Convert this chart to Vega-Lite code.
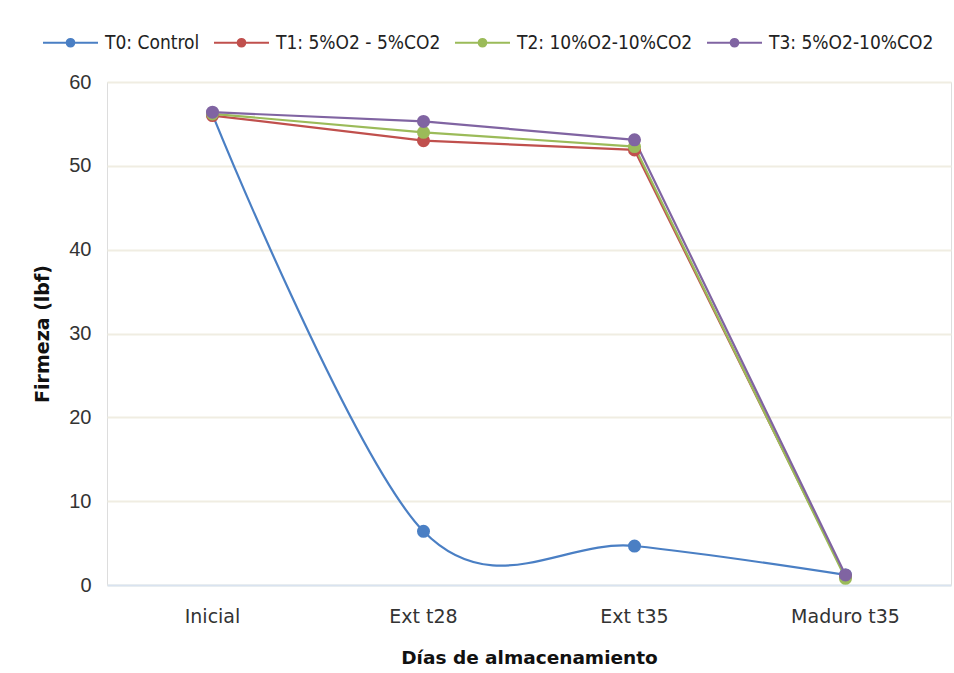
{
  "$schema": "https://vega.github.io/schema/vega-lite/v6.json",
  "autosize": "none",
  "width": 844,
  "height": 503,
  "padding": {"left": 107, "top": 82, "right": 3, "bottom": 88},
  "background": "white",
  "data": {"values": [
    {"dia": "Inicial", "serie": "T0: Control", "firmeza": 56.1},
    {"dia": "Ext t28", "serie": "T0: Control", "firmeza": 6.4},
    {"dia": "Ext t35", "serie": "T0: Control", "firmeza": 4.65},
    {"dia": "Maduro t35", "serie": "T0: Control", "firmeza": 1.2},
    {"dia": "Inicial", "serie": "T1: 5%O2 - 5%CO2", "firmeza": 56.0},
    {"dia": "Ext t28", "serie": "T1: 5%O2 - 5%CO2", "firmeza": 53.0},
    {"dia": "Ext t35", "serie": "T1: 5%O2 - 5%CO2", "firmeza": 51.9},
    {"dia": "Maduro t35", "serie": "T1: 5%O2 - 5%CO2", "firmeza": 1.0},
    {"dia": "Inicial", "serie": "T2: 10%O2-10%CO2", "firmeza": 56.2},
    {"dia": "Ext t28", "serie": "T2: 10%O2-10%CO2", "firmeza": 54.0},
    {"dia": "Ext t35", "serie": "T2: 10%O2-10%CO2", "firmeza": 52.3},
    {"dia": "Maduro t35", "serie": "T2: 10%O2-10%CO2", "firmeza": 0.8},
    {"dia": "Inicial", "serie": "T3: 5%O2-10%CO2", "firmeza": 56.4},
    {"dia": "Ext t28", "serie": "T3: 5%O2-10%CO2", "firmeza": 55.3},
    {"dia": "Ext t35", "serie": "T3: 5%O2-10%CO2", "firmeza": 53.1},
    {"dia": "Maduro t35", "serie": "T3: 5%O2-10%CO2", "firmeza": 1.2}
  ]},
  "encoding": {
    "x": {"field": "dia", "type": "nominal", "sort": ["Inicial", "Ext t28", "Ext t35", "Maduro t35"],
      "scale": {"type": "band", "paddingInner": 0, "paddingOuter": 0},
      "axis": {"title": "Días de almacenamiento", "labelAngle": 0, "labelFont": "DejaVu Sans", "labelFontSize": 19, "labelColor": "#333333", "labelPadding": 22,
        "ticks": false, "domainColor": "#d9e3f0", "domainWidth": 2, "grid": false,
        "titleFont": "DejaVu Sans", "titleFontSize": 18.5, "titleFontWeight": "bold", "titleColor": "#111111", "titlePadding": 22}},
    "y": {"field": "firmeza", "type": "quantitative",
      "scale": {"domain": [0, 60]},
      "axis": {"title": "Firmeza (lbf)", "values": [0, 10, 20, 30, 40, 50, 60], "labelFont": "Liberation Sans", "labelFontSize": 20, "labelColor": "#333333", "labelPadding": 16,
        "ticks": false, "domain": false, "gridColor": "#f0ede2", "gridWidth": 2,
        "titleFont": "DejaVu Sans", "titleFontSize": 19, "titleFontWeight": "bold", "titleColor": "#111111", "titlePadding": 16}},
    "color": {"field": "serie", "type": "nominal",
      "scale": {"domain": ["T0: Control", "T1: 5%O2 - 5%CO2", "T2: 10%O2-10%CO2", "T3: 5%O2-10%CO2"],
        "range": ["#4a7fc4", "#c0504d", "#9bbb59", "#8064a2"]},
      "legend": {"orient": "none", "legendX": -65, "legendY": -68, "direction": "horizontal", "title": null,
         "symbolType": "M-1,0H1M-0.14,0A0.14,0.14 0 1,0 0.14,0A0.14,0.14 0 1,0 -0.14,0",
         "symbolSize": 3025, "symbolStrokeWidth": 2, "symbolOpacity": 1, "labelLimit": 400,
         "labelFont": "DejaVu Sans Condensed", "labelFontSize": 19, "labelColor": "#222222", "labelOffset": 6, "columnPadding": 10}}
  },
  "layer": [
    {"transform": [{"filter": "datum.serie === 'T0: Control'"}],
     "mark": {"type": "line", "interpolate": "cardinal", "tension": 0, "strokeWidth": 2.2}},
    {"transform": [{"filter": "datum.serie !== 'T0: Control'"}],
     "mark": {"type": "line", "interpolate": "linear", "strokeWidth": 2.2}},
    {"mark": {"type": "point", "filled": true, "size": 170, "opacity": 1}}
  ]
}
